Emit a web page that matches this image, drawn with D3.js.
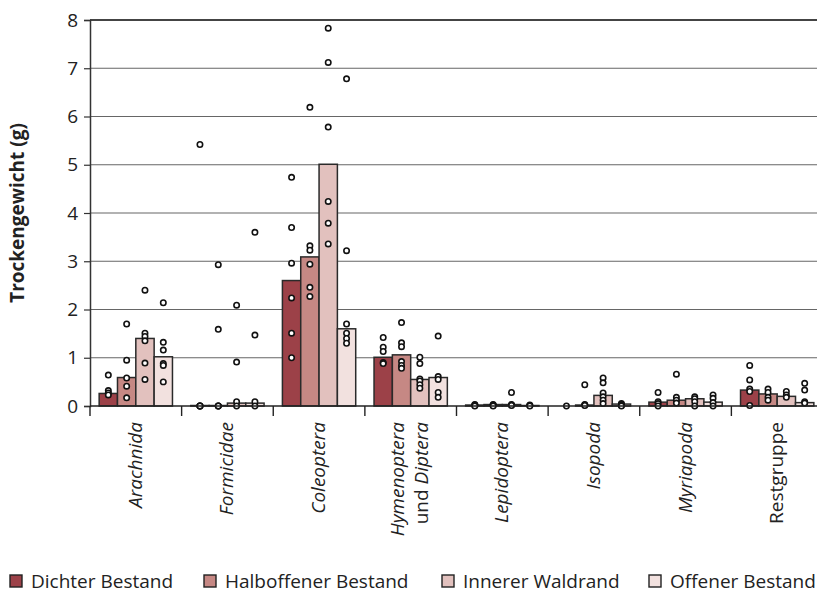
<!DOCTYPE html>
<html>
<head>
<meta charset="utf-8">
<script src="https://cdn.jsdelivr.net/npm/d3@7"></script>
<style>
  body { margin: 0; background: #fff; }
  svg { display: block; font-family: "Open Sans", "Noto Sans", sans-serif; }
</style>
</head>
<body>
<svg id="chart" width="817" height="593"></svg>
<script>
// categories and groups
var categories = ["Arachnida", "Formicidae", "Coleoptera", "Hymenoptera und Diptera",
                  "Lepidoptera", "Isopoda", "Myriapoda", "Restgruppe"];
var series = ["Dichter Bestand", "Halboffener Bestand", "Innerer Waldrand", "Offener Bestand"];
var colors = ["#9c4148", "#c68884", "#e2c1be", "#f2e1df"];
var yTicks = [0, 1, 2, 3, 4, 5, 6, 7, 8];

// bar heights (g)
var dichter  = [0.26, 0.01, 2.60, 1.01, 0.02, 0.00, 0.08, 0.33];
var halb     = [0.59, 0.01, 3.09, 1.06, 0.03, 0.02, 0.12, 0.25];
var innerer  = [1.40, 0.06, 5.01, 0.55, 0.03, 0.22, 0.15, 0.20];
var offener  = [1.02, 0.06, 1.60, 0.59, 0.01, 0.04, 0.08, 0.07];

// single samples (g)
var dichterPts = [
  [0.64, 0.32, 0.27, 0.23],
  [5.42, 0, 0, 0, 0],
  [4.74, 3.70, 2.96, 2.24, 1.51, 1.00],
  [1.42, 1.22, 1.13, 0.90, 0.88],
  [0.03, 0.02, 0.01, 0],
  [0],
  [0.28, 0.09, 0.05, 0],
  [0.84, 0.54, 0.35, 0.30, 0.01]
];
var halbPts = [
  [1.70, 0.95, 0.58, 0.41, 0.17],
  [2.93, 1.59, 0, 0, 0],
  [6.19, 3.32, 3.23, 2.94, 2.46, 2.27],
  [1.73, 1.31, 1.23, 0.92, 0.84, 0.78],
  [0.03, 0.02, 0.01, 0],
  [0.44, 0.03, 0.02, 0.01],
  [0.66, 0.18, 0.12, 0.06],
  [0.35, 0.28, 0.18, 0.12]
];
var innererPts = [
  [2.40, 1.51, 1.44, 1.35, 0.89, 0.55],
  [2.09, 0.91, 0.09, 0],
  [7.83, 7.12, 5.78, 4.24, 3.79, 3.36],
  [1.01, 0.88, 0.56, 0.52, 0.44, 0.37],
  [0.28, 0.03, 0.02, 0.01],
  [0.58, 0.48, 0.27, 0.19, 0.12, 0.05],
  [0.19, 0.15, 0.09, 0],
  [0.30, 0.23, 0.18]
];
var offenerPts = [
  [2.14, 1.32, 1.16, 0.88, 0.84, 0.50],
  [3.60, 1.47, 0.09, 0],
  [6.78, 3.22, 1.70, 1.51, 1.40, 1.30],
  [1.45, 0.61, 0.55, 0.28, 0.18],
  [0.02, 0.01, 0],
  [0.05, 0.03, 0.01, 0],
  [0.23, 0.16, 0.07, 0],
  [0.47, 0.33, 0.09, 0.06]
];

var barValues = [dichter, halb, innerer, offener];
var pointValues = [dichterPts, halbPts, innererPts, offenerPts];

(function() {
  var svg = d3.select("#chart");
  var mLeft = 90, mRight = 823, mTop = 20, mBottom = 406;

  var x0 = d3.scaleBand().domain(categories).range([mLeft, mRight]).padding(0);
  var x1 = d3.scaleBand().domain(series).range([0, x0.bandwidth() * 0.8]).padding(0);
  var groupOffset = x0.bandwidth() * 0.1;
  var y = d3.scaleLinear().domain([0, 8]).range([mBottom, mTop]);

  // grid lines
  svg.append("g").selectAll("line")
    .data(yTicks.filter(function(d) { return d > 0; }))
    .enter().append("line")
    .attr("x1", mLeft).attr("x2", mRight)
    .attr("y1", function(d) { return y(d); }).attr("y2", function(d) { return y(d); })
    .attr("stroke", function(d) { return d === 8 ? "#444" : "#666"; })
    .attr("stroke-width", function(d) { return d === 8 ? 2 : 1.2; });

  // y axis
  var yAxis = svg.append("g")
    .attr("transform", "translate(" + mLeft + ",0)")
    .call(d3.axisLeft(y).tickValues(yTicks).tickFormat(d3.format("d")).tickSize(6).tickPadding(6));
  yAxis.select(".domain").attr("stroke", "#333").attr("stroke-width", 1.5);
  yAxis.selectAll(".tick line").attr("stroke", "#333").attr("stroke-width", 1.2);
  yAxis.selectAll("text").attr("font-size", 19).attr("fill", "#222")
    .attr("font-family", "Open Sans, sans-serif");

  svg.append("text")
    .attr("transform", "translate(24," + ((mTop + mBottom) / 2) + ") rotate(-90)")
    .attr("text-anchor", "middle")
    .attr("font-size", 19).attr("font-weight", "bold").attr("fill", "#222")
    .text("Trockengewicht (g)");

  // bars
  var groups = svg.append("g").selectAll("g")
    .data(categories)
    .enter().append("g")
    .attr("transform", function(d) { return "translate(" + (x0(d) + groupOffset) + ",0)"; });

  groups.selectAll("rect")
    .data(function(d, i) { return series.map(function(s, j) { return { s: s, j: j, v: barValues[j][i] }; }); })
    .enter().append("rect")
    .attr("x", function(d) { return x1(d.s); })
    .attr("width", x1.bandwidth())
    .attr("y", function(d) { return y(d.v); })
    .attr("height", function(d) { return y(0) - y(d.v); })
    .attr("fill", function(d) { return colors[d.j]; })
    .attr("stroke", "#2a2a2a").attr("stroke-width", 1.5);

  // baseline and category ticks
  svg.append("line")
    .attr("x1", mLeft).attr("x2", mRight).attr("y1", mBottom).attr("y2", mBottom)
    .attr("stroke", "#222").attr("stroke-width", 1.6);
  svg.append("g").selectAll("line")
    .data(categories)
    .enter().append("line")
    .attr("x1", function(d) { return x0(d); }).attr("x2", function(d) { return x0(d); })
    .attr("y1", mBottom).attr("y2", mBottom + 10)
    .attr("stroke", "#222").attr("stroke-width", 1.4);

  // sample points
  groups.each(function(cat, i) {
    var g = d3.select(this);
    series.forEach(function(s, j) {
      g.selectAll(null)
        .data(pointValues[j][i])
        .enter().append("circle")
        .attr("cx", x1(s) + x1.bandwidth() / 2)
        .attr("cy", function(d) { return y(d); })
        .attr("r", 2.7)
        .attr("fill", "#fff")
        .attr("stroke", "#111").attr("stroke-width", 1.6);
    });
  });

  // category labels
  var labels = svg.append("g").selectAll("text")
    .data(categories)
    .enter().append("text")
    .attr("font-size", 19).attr("fill", "#222")
    .attr("text-anchor", "end");
  labels.each(function(d) {
    var t = d3.select(this);
    var cx = x0(d) + x0.bandwidth() / 2;
    if (d === "Hymenoptera und Diptera") {
      t.attr("transform", "translate(" + (cx - 7) + ",422) rotate(-90)");
      t.append("tspan").attr("x", 0).attr("y", 0).attr("font-style", "italic").text("Hymenoptera");
      var t2 = t.append("tspan").attr("x", 0).attr("y", 24);
      t2.append("tspan").text("und ");
      t2.append("tspan").attr("font-style", "italic").text("Diptera");
    } else {
      t.attr("transform", "translate(" + (cx + 6) + ",422) rotate(-90)")
        .attr("font-style", d === "Restgruppe" ? "normal" : "italic")
        .text(d);
    }
  });

  // legend
  var legendX = [10, 204, 442, 649];
  var legend = svg.append("g").selectAll("g")
    .data(series)
    .enter().append("g")
    .attr("transform", function(d, i) { return "translate(" + legendX[i] + ",575)"; });
  legend.append("rect")
    .attr("width", 12).attr("height", 12)
    .attr("fill", function(d, i) { return colors[i]; })
    .attr("stroke", "#222").attr("stroke-width", 1.4);
  legend.append("text")
    .attr("x", 21).attr("y", 13)
    .attr("font-size", 19).attr("fill", "#222")
    .text(function(d) { return d; });
})();
</script>
</body>
</html>
